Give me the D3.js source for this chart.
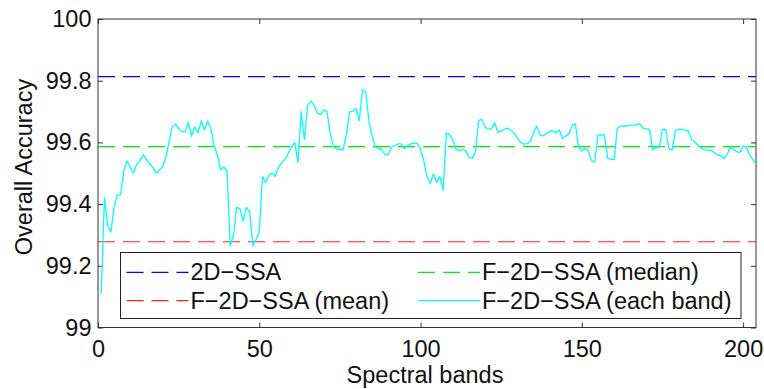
<!DOCTYPE html>
<html>
<head>
<meta charset="utf-8">
<script src="https://cdn.jsdelivr.net/npm/d3@7"></script>
<style>
  html, body { margin: 0; padding: 0; background: #fff; }
  svg text { font-family: "Liberation Sans", Arial, Helvetica, sans-serif; fill: #111; }
</style>
</head>
<body>
<svg id="chart" width="764" height="389"></svg>
<script>
// overall accuracy per spectral band, F-2D-SSA (each band), bands 1..204
const accEachBand = [
  99.11, 99.42, 99.33, 99.31, 99.39, 99.43, 99.43, 99.51, 99.54, 99.52,
  99.50, 99.53, 99.54, 99.56, 99.545, 99.53, 99.52, 99.50, 99.51, 99.52,
  99.55, 99.60, 99.65, 99.66, 99.645, 99.635, 99.635, 99.665, 99.62, 99.65,
  99.63, 99.67, 99.64, 99.67, 99.645, 99.59, 99.56, 99.51, 99.52, 99.51,
  99.265, 99.30, 99.39, 99.385, 99.345, 99.39, 99.375, 99.265, 99.285, 99.31,
  99.49, 99.47, 99.495, 99.50, 99.49, 99.52, 99.535, 99.545, 99.565, 99.585,
  99.60, 99.535, 99.70, 99.61, 99.72, 99.735, 99.72, 99.695, 99.69, 99.705,
  99.70, 99.63, 99.585, 99.578, 99.577, 99.577, 99.625, 99.70, 99.70, 99.71,
  99.67, 99.77, 99.765, 99.67, 99.62, 99.585, 99.58, 99.575, 99.56, 99.56,
  99.585, 99.59, 99.595, 99.595, 99.58, 99.59, 99.595, 99.597, 99.597, 99.577,
  99.54, 99.49, 99.467, 99.498, 99.47, 99.49, 99.445, 99.63, 99.625, 99.61,
  99.578, 99.573, 99.577, 99.573, 99.552, 99.548, 99.57, 99.67, 99.675, 99.65,
  99.642, 99.645, 99.664, 99.632, 99.638, 99.642, 99.646, 99.64, 99.63, 99.615,
  99.60, 99.594, 99.597, 99.602, 99.63, 99.653, 99.624, 99.621, 99.629, 99.635,
  99.638, 99.631, 99.64, 99.613, 99.621, 99.627, 99.656, 99.66, 99.586, 99.573,
  99.581, 99.573, 99.541, 99.537, 99.624, 99.624, 99.624, 99.548, 99.545, 99.545,
  99.646, 99.653, 99.653, 99.654, 99.655, 99.656, 99.658, 99.66, 99.646, 99.644,
  99.642, 99.575, 99.584, 99.584, 99.642, 99.642, 99.58, 99.575, 99.638, 99.642,
  99.642, 99.64, 99.638, 99.608, 99.602, 99.59, 99.582, 99.576, 99.575, 99.574,
  99.568, 99.56, 99.557, 99.548, 99.559, 99.584, 99.577, 99.57, 99.567, 99.588,
  99.586, 99.56, 99.545, 99.53
];
const bands = accEachBand.map((v, i) => i + 1);

// reference levels (dashed lines)
const refNames = ['2D\u2212SSA', 'F\u22122D\u2212SSA (median)', 'F\u22122D\u2212SSA (mean)'];
const refValues = [99.813, 99.586, 99.278];
const refColors = ['#0000ff', '#00ee00', '#ff2020'];

const xTicks = [0, 50, 100, 150, 200];
const yTicks = [99, 99.2, 99.4, 99.6, 99.8, 100];

const svg = d3.select('#chart');
const plot = { left: 98, right: 756, top: 19, bottom: 327.5 };

const x = d3.scaleLinear().domain([0, 204]).range([plot.left, plot.right]);
const y = d3.scaleLinear().domain([99, 100]).range([plot.bottom, plot.top]);

const axisColor = '#333';
const fontSize = 23.5;

// plot box
svg.append('rect')
    .attr('x', plot.left).attr('y', plot.top)
    .attr('width', plot.right - plot.left).attr('height', plot.bottom - plot.top)
    .attr('fill', 'none').attr('stroke', axisColor).attr('stroke-width', 1);

// ticks, inward, on all four sides
let ax = svg.append('g');
ax.append('g')
    .attr('transform', `translate(0,${plot.bottom})`)
    .call(d3.axisBottom(x).tickValues(xTicks).tickSize(-5).tickPadding(12.5).tickFormat(d3.format('d')));
ax.append('g')
    .attr('transform', `translate(0,${plot.top})`)
    .call(d3.axisTop(x).tickValues(xTicks).tickSize(-5).tickFormat(''));
ax.append('g')
    .attr('transform', `translate(${plot.left},0)`)
    .call(d3.axisLeft(y).tickValues(yTicks).tickSize(-5).tickPadding(6.5).tickFormat(d => d3.format('~g')(d)));
ax.append('g')
    .attr('transform', `translate(${plot.right},0)`)
    .call(d3.axisRight(y).tickValues(yTicks).tickSize(-5).tickFormat(''));
ax.selectAll('.domain').remove();
ax.selectAll('.tick line').attr('stroke', axisColor);
ax.selectAll('.tick text')
    .attr('font-size', fontSize)
    .attr('font-family', '"Liberation Sans", Arial, sans-serif')
    .attr('fill', '#111');

// axis titles
svg.append('text')
    .attr('x', 425).attr('y', 383)
    .attr('text-anchor', 'middle')
    .attr('font-size', fontSize)
    .text('Spectral bands');

svg.append('text')
    .attr('transform', 'translate(31.5,167) rotate(-90)')
    .attr('text-anchor', 'middle')
    .attr('font-size', fontSize)
    .text('Overall Accuracy');

// dashed reference lines
refValues.forEach((v, i) => {
    svg.append('line')
        .attr('x1', plot.left).attr('x2', plot.right)
        .attr('y1', y(v)).attr('y2', y(v))
        .attr('stroke', refColors[i])
        .attr('stroke-width', 1.2)
        .attr('stroke-dasharray', '17,8');
});

// each-band line
const line = d3.line()
    .x((d, i) => x(bands[i]))
    .y(d => y(d));

svg.append('path')
    .datum(accEachBand)
    .attr('fill', 'none')
    .attr('stroke', '#00ffff')
    .attr('stroke-width', 1.3)
    .attr('stroke-linejoin', 'round')
    .attr('d', line);

// legend
const lg = svg.append('g');
lg.append('rect')
    .attr('x', 120.5).attr('y', 252.5)
    .attr('width', 620.5).attr('height', 66)
    .attr('fill', '#fff').attr('stroke', '#222').attr('stroke-width', 1);

const legendItems = [
    { name: refNames[0], color: refColors[0], dash: '17,8', x: 126.5, y: 272.3 },
    { name: refNames[1], color: refColors[1], dash: '17,8', x: 418, y: 272.3 },
    { name: refNames[2], color: refColors[2], dash: '17,8', x: 126.5, y: 300.7 },
    { name: 'F\u22122D\u2212SSA (each band)', color: '#00ffff', dash: null, x: 418, y: 300.7 }
];

legendItems.forEach(it => {
    lg.append('line')
        .attr('x1', it.x).attr('x2', it.x + 62)
        .attr('y1', it.y).attr('y2', it.y)
        .attr('stroke', it.color)
        .attr('stroke-width', 1.2)
        .attr('stroke-dasharray', it.dash);
    lg.append('text')
        .attr('x', it.x + 64).attr('y', it.y + 8)
        .attr('font-size', fontSize)
        .text(it.name);
});
</script>
</body>
</html>
